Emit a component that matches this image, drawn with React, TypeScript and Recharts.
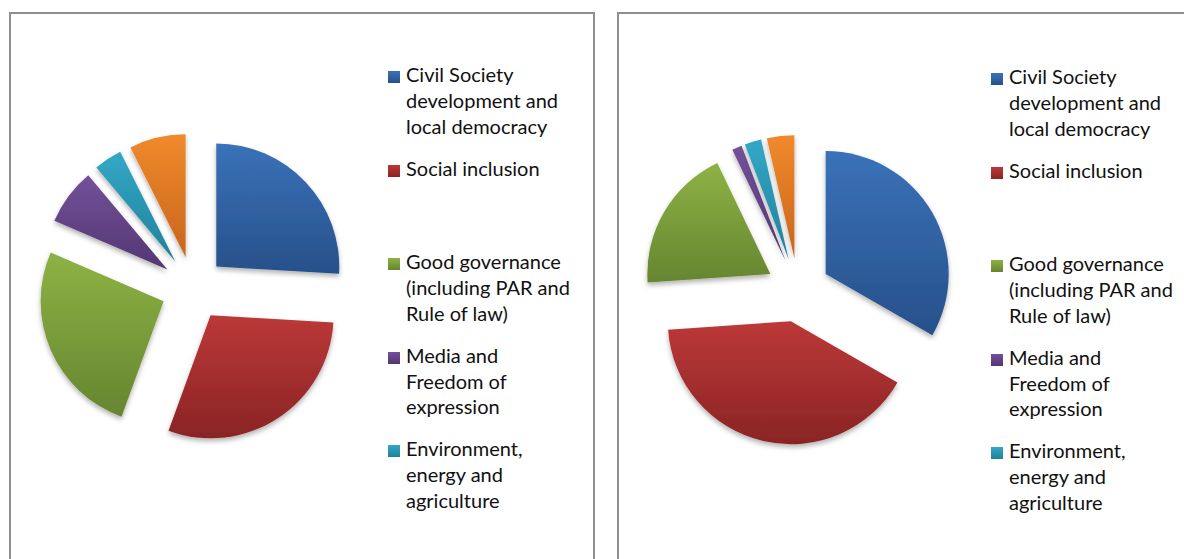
import React from 'react'
import { PieChart, Pie, Cell, Sector, Legend } from 'recharts'

const categories = [
    'Civil Society development and local democracy',
    'Social inclusion',
    'Good governance (including PAR and Rule of law)',
    'Media and Freedom of expression',
    'Environment, energy and agriculture',
    'Other',
]

const leftValues = [7, 8, 7, 2, 1, 2]
const rightValues = [33.3, 40.6, 19.0, 1.3, 2.2, 3.6]

// legend text as wrapped in the original (5 entries visible)
const legendLines = [
    ['Civil Society', 'development and', 'local democracy'],
    ['Social inclusion'],
    ['Good governance', '(including PAR and', 'Rule of law)'],
    ['Media and', 'Freedom of', 'expression'],
    ['Environment,', 'energy and', 'agriculture'],
]

const colors = [
    ['#3A72B9', '#27508A'],
    ['#BC3838', '#8A2424'],
    ['#8EB245', '#66852F'],
    ['#73519A', '#523672'],
    ['#33A8C6', '#21809A'],
    ['#F08A2C', '#C9651B'],
]

const RAD = Math.PI / 180
const EXPLODE = 32
const LINE_H = 25.7

const makeData = (values: number[]) =>
    categories.map((name, i) => ({ name, value: values[i] }))

function ExplodedSector(props: any) {
    const { cx, cy, midAngle, innerRadius, outerRadius, startAngle, endAngle, fill, filterId } = props
    const dx = EXPLODE * Math.cos(-midAngle * RAD)
    const dy = EXPLODE * Math.sin(-midAngle * RAD)
    return (
        <Sector
            cx={cx + dx}
            cy={cy + dy}
            innerRadius={innerRadius}
            outerRadius={outerRadius}
            startAngle={startAngle}
            endAngle={endAngle}
            fill={fill}
            stroke='none'
            filter={`url(#${filterId})`}
        />
    )
}

function LegendBox({ payload }: any) {
    const items = (payload || []).slice(0, legendLines.length)
    return (
        <div style={{ fontFamily: 'Lato, sans-serif', fontSize: 20, color: '#111' }}>
            {items.map((item: any, i: number) => (
                <div
                    key={item.value}
                    style={{ position: 'relative', height: LINE_H * 3, marginBottom: 16.4 }}
                >
                    <div
                        style={{
                            position: 'absolute',
                            left: 0,
                            top: 9,
                            width: 12,
                            height: 12,
                            background: `linear-gradient(${colors[i][0]}, ${colors[i][1]})`,
                        }}
                    />
                    <div style={{ position: 'absolute', left: 18, top: 0, whiteSpace: 'nowrap' }}>
                        {legendLines[i].map((l) => (
                            <div key={l} style={{ height: LINE_H, lineHeight: `${LINE_H}px` }}>
                                {l}
                            </div>
                        ))}
                    </div>
                </div>
            ))}
        </div>
    )
}

function PiePanel({ id, values, left, cx, cy, legendLeft, legendTop }: any) {
    return (
        <div
            style={{
                position: 'absolute',
                left,
                top: 12,
                width: 586,
                height: 620,
                border: '2px solid #8E8E8E',
                boxSizing: 'border-box',
                background: '#fff',
            }}
        >
            <PieChart width={582} height={560} margin={{ top: 0, right: 0, bottom: 0, left: 0 }}>
                <defs>
                    {colors.map((c, i) => (
                        <linearGradient key={i} id={`${id}-g${i}`} x1='0' y1='0' x2='0' y2='1'>
                            <stop offset='0%' stopColor={c[0]} />
                            <stop offset='100%' stopColor={c[1]} />
                        </linearGradient>
                    ))}
                    <filter id={`${id}-shadow`} x='-20%' y='-20%' width='140%' height='140%'>
                        <feDropShadow dx='0' dy='3' stdDeviation='2.5' floodColor='#000' floodOpacity='0.3' />
                    </filter>
                </defs>
                <Pie
                    data={makeData(values)}
                    dataKey='value'
                    nameKey='name'
                    cx={cx}
                    cy={cy}
                    innerRadius={0}
                    outerRadius={123}
                    startAngle={90}
                    endAngle={-270}
                    stroke='none'
                    isAnimationActive={false}
                    shape={(p: any) => <ExplodedSector {...p} filterId={`${id}-shadow`} />}
                >
                    {colors.map((_, i) => (
                        <Cell key={i} fill={`url(#${id}-g${i})`} />
                    ))}
                </Pie>
                <Legend
                    content={<LegendBox />}
                    wrapperStyle={{ left: legendLeft, top: legendTop, width: 200 }}
                />
            </PieChart>
        </div>
    )
}

export default function App() {
    return (
        <div
            style={{
                position: 'absolute',
                left: 0,
                top: 0,
                width: 1184,
                height: 559,
                overflow: 'hidden',
                background: '#fff',
            }}
        >
            <PiePanel id='left' values={leftValues} left={9} cx={182} cy={274.5} legendLeft={377} legendTop={48.4} />
            <PiePanel id='right' values={rightValues} left={617} cx={179} cy={276} legendLeft={372} legendTop={50.4} />
        </div>
    )
}
